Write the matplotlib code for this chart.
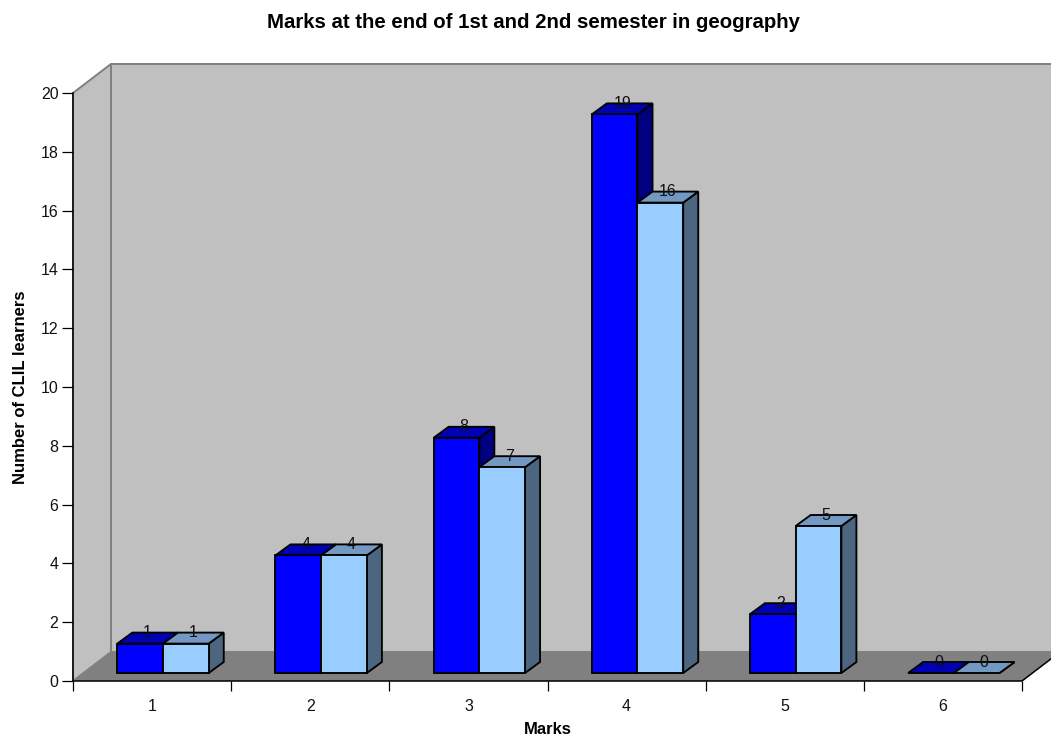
import matplotlib
matplotlib.use("Agg")
import matplotlib.pyplot as plt

marks = ["1", "2", "3", "4", "5", "6"]
first_semester = [1, 4, 8, 19, 2, 0]
second_semester = [1, 4, 7, 16, 5, 0]
y_ticks = list(range(0, 21, 2))

# depth of the box and of the bars, in data units
WALL_DX = 0.24
WALL_DY = 0.986
BAR_DX = 0.095
BAR_DY = 0.374
BAR_LIFT = 0.272
BAR_START = 0.28
BAR_WIDTH = 0.289

FIRST_COLORS = ("#0000FF", "#0000B4", "#000080")
SECOND_COLORS = ("#99CCFF", "#7399C3", "#4D6680")

plt.rcParams["font.family"] = ["Liberation Sans", "DejaVu Sans"]


def draw_box(ax, n_cats, y_max):
    """Draw the grey walls and floor behind the bars."""
    edge = dict(edgecolor="#808080", linewidth=1.4, joinstyle="miter", clip_on=False)
    ax.fill([0, WALL_DX, WALL_DX, 0],
            [0, WALL_DY, y_max + WALL_DY, y_max],
            facecolor="#C0C0C0", zorder=1, **edge)
    ax.fill([WALL_DX, n_cats + WALL_DX, n_cats + WALL_DX, WALL_DX],
            [WALL_DY, WALL_DY, y_max + WALL_DY, y_max + WALL_DY],
            facecolor="#C0C0C0", zorder=1, **edge)
    ax.fill([0, n_cats, n_cats + WALL_DX, WALL_DX],
            [0, 0, WALL_DY, WALL_DY],
            facecolor="#808080", edgecolor="none", zorder=2, clip_on=False)
    ax.plot([0, n_cats, n_cats + WALL_DX], [0, 0, WALL_DY],
            color="#000000", linewidth=1.1, zorder=3, clip_on=False)
    ax.plot([0, 0], [0, y_max], color="#000000", linewidth=1.1, zorder=3, clip_on=False)


def draw_bar(ax, x, value, colors, z):
    """Draw one bar as front, side and top faces plus its value label."""
    front, top, side = colors
    base = BAR_LIFT
    height = base + value
    edge = dict(edgecolor="#000000", linewidth=1.35, joinstyle="miter", zorder=z, clip_on=False)
    ax.fill([x + BAR_WIDTH, x + BAR_WIDTH + BAR_DX, x + BAR_WIDTH + BAR_DX, x + BAR_WIDTH],
            [base, base + BAR_DY, height + BAR_DY, height], facecolor=side, **edge)
    ax.fill([x, x + BAR_WIDTH, x + BAR_WIDTH + BAR_DX, x + BAR_DX],
            [height, height, height + BAR_DY, height + BAR_DY], facecolor=top, **edge)
    if value > 0:
        ax.fill([x, x + BAR_WIDTH, x + BAR_WIDTH, x],
                [base, base, height, height], facecolor=front, **edge)
    ax.text(x + (BAR_WIDTH + BAR_DX) / 2, height + BAR_DY, str(value),
            ha="center", va="center", fontsize=11.5, color="#111111", zorder=20)


fig = plt.figure(figsize=(10.51, 7.37), dpi=100)
ax = fig.add_axes([73 / 1051, 1 - 681 / 737, 949 / 1051, 588 / 737])

n = len(marks)
ax.set_xlim(0, n)
ax.set_ylim(0, 20)
for spine in ax.spines.values():
    spine.set_visible(False)

draw_box(ax, n, 20)

for i in range(n):
    z = 5 + i
    draw_bar(ax, i + BAR_START, first_semester[i], FIRST_COLORS, z)
    draw_bar(ax, i + BAR_START + BAR_WIDTH, second_semester[i], SECOND_COLORS, z + 0.5)

ax.set_yticks(y_ticks)
ax.set_xticks(range(n + 1))
ax.set_xticklabels([])
ax.set_xticks([i + 0.5 for i in range(n)], minor=True)
ax.set_xticklabels(marks, minor=True)
ax.tick_params(axis="y", length=8, width=0.9, pad=2.5, labelsize=11.5, labelcolor="#111111")
ax.tick_params(axis="x", which="major", length=7.5, width=0.9)
ax.tick_params(axis="x", which="minor", length=0, pad=13.2, labelsize=11.5, labelcolor="#111111")

ax.set_xlabel("Marks", fontsize=12, fontweight="bold", labelpad=5.7)
ax.set_ylabel("Number of CLIL learners", fontsize=12, fontweight="bold", labelpad=9)
fig.text(533.5 / 1051, 1 - 22.5 / 737, "Marks at the end of 1st and 2nd semester in geography",
         ha="center", va="center", fontsize=14.65, fontweight="bold")

fig.savefig("out.png", dpi=100)
